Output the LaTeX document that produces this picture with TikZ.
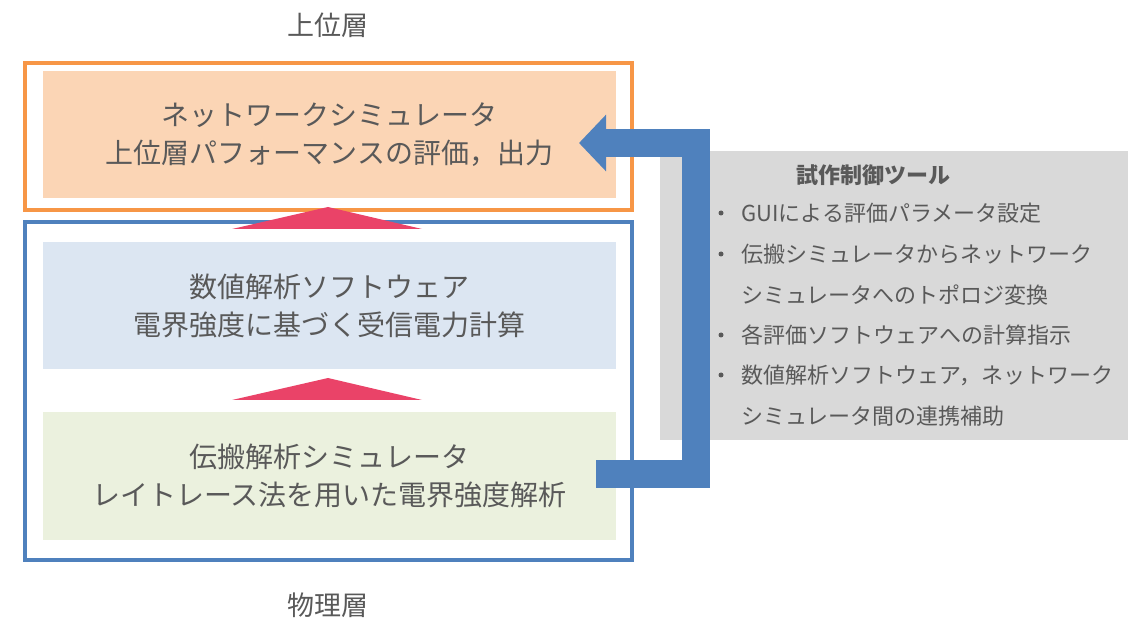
\documentclass[tikz,border=0pt]{standalone}
\usepackage{fontspec}
\newfontfamily\jp{Noto Sans CJK JP}
\usetikzlibrary{arrows.meta, positioning}
\definecolor{frameorange}{HTML}{F79646}
\definecolor{peach}{HTML}{FBD5B5}
\definecolor{frameblue}{HTML}{4F81BD}
\definecolor{paleblue}{HTML}{DCE6F2}
\definecolor{palegreen}{HTML}{EBF1DE}
\definecolor{uparrow}{HTML}{EA4368}
\definecolor{toolgray}{HTML}{D9D9D9}
\definecolor{txtgray}{HTML}{595959}
\tikzset{
  layerframe/.style={draw, line width=4pt, inner sep=0pt, minimum width=607pt},
  simbox/.style={inner sep=0pt, minimum width=573pt, minimum height=127pt, align=center,
    text=txtgray, font=\jp\fontsize{28}{38}\selectfont},
  layerlabel/.style={text=txtgray, font=\jp\fontsize{27}{30}\selectfont},
  tooltext/.style={anchor=west, inner sep=0pt, text=txtgray, text height=19.5pt, text depth=2.7pt,
    font=\jp\fontsize{22}{26}\selectfont},
  bulletdot/.style={circle, fill=txtgray, inner sep=0pt, minimum size=5pt},
  stepup/.style={fill=uparrow},
}
\begin{document}
\begin{tikzpicture}[x=1pt, y=-1pt]
  \useasboundingbox (0,0) rectangle (1144,628);
  % layer frames
  \node[layerframe, draw=frameorange, minimum height=147pt] (upper) at (328.5,136.5) {};
  \node[layerframe, draw=frameblue, minimum height=337.5pt] (phys) at (328.5,391.25) {};
  % simulators
  \node[simbox, fill=peach] (net) at (329.5,134.5) {ネットワークシミュレータ\\上位層パフォーマンスの評価，出力};
  \node[simbox, fill=paleblue] (num) at (329.5,305.5) {数値解析ソフトウェア\\電界強度に基づく受信電力計算};
  \node[simbox, fill=palegreen, minimum height=128pt] (prop) at (329.5,476) {伝搬解析シミュレータ\\レイトレース法を用いた電界強度解析};
  % layer names
  \node[layerlabel] (upname) at (328,25) {上位層};
  \node[layerlabel] (physname) at (328,605) {物理層};
  % upward steps
  \fill[stepup] (232,229) -- (328,207) -- (422,229) -- cycle;
  \fill[stepup] (232,400) -- (328,378) -- (422,400) -- cycle;
  % control tool
  \node[fill=toolgray, inner sep=0pt, minimum width=468pt, minimum height=289pt] (tool) at (894,295.5) {};
  \node[text=txtgray, font=\jp\bfseries\fontsize{22}{26}\selectfont] (tooltitle) at (873,175) {試作制御ツール};
  \node[tooltext] (item1) at (741,213) {GUIによる評価パラメータ設定};
  \node[tooltext] (item2) at (741,254) {伝搬シミュレータからネットワーク};
  \node[tooltext] (item2b) at (741,295) {シミュレータへのトポロジ変換};
  \node[tooltext] (item3) at (741,335) {各評価ソフトウェアへの計算指示};
  \node[tooltext] (item4) at (741,375) {数値解析ソフトウェア，ネットワーク};
  \node[tooltext] (item4b) at (741,416) {シミュレータ間の連携補助};
  \node[bulletdot] at ([xshift=-20pt]item1.west) {};
  \node[bulletdot] at ([xshift=-20pt]item2.west) {};
  \node[bulletdot] at ([xshift=-20pt]item3.west) {};
  \node[bulletdot] at ([xshift=-20pt]item4.west) {};
  % feedback connector
  \coordinate (cs) at (596,474);
  \coordinate (cb) at (696,474);
  \coordinate (ct) at (696,143);
  \coordinate (ce) at (579,143);
  \draw[frameblue, line width=28pt, line join=miter, -{Triangle[length=27pt, width=55pt]}]
    (cs) -- (cb) -- (ct) -- (ce);
\end{tikzpicture}
\end{document}
